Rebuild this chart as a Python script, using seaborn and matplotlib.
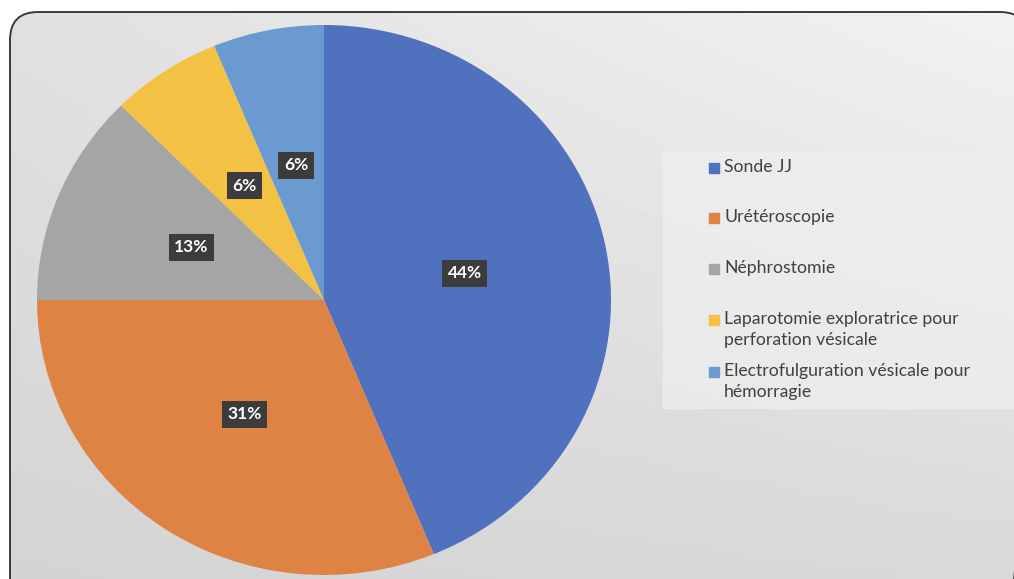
import numpy as np
import matplotlib
matplotlib.use('Agg')
import matplotlib.pyplot as plt
from matplotlib.patches import FancyBboxPatch, Rectangle
import seaborn as sns

sns.set_theme(style='white')
plt.rcParams['font.family'] = ['Lato', 'DejaVu Sans']

# données
categories = ['Sonde JJ', 'Urétéroscopie', 'Néphrostomie',
              'Laparotomie exploratrice pour\nperforation vésicale',
              'Electrofulguration vésicale pour\nhémorragie']
counts = [7, 5, 2, 1, 1]
colors = ['#4F71BE', '#DE8344', '#A5A5A5', '#F3C143', '#6B9AD0']

W, H = 1014, 579
fig = plt.figure(figsize=(W / 100, H / 100), dpi=100, facecolor='white')

# fond dégradé gris dans un cadre arrondi
bg = fig.add_axes([0, 0, 1, 1])
bg.set_xlim(0, W)
bg.set_ylim(H, 0)
bg.axis('off')
frame = FancyBboxPatch((10, 12), 1018, H + 40, boxstyle='round,pad=0,rounding_size=28',
                       fc='none', ec='#3a3a3a', lw=1.4, zorder=2)
bg.add_patch(frame)
xx, yy = np.meshgrid(np.linspace(0, 1, 200), np.linspace(0, 1, 120))
grad = 0.93 - 0.10 * yy - 0.05 * (1 - xx) * (1 - yy) + 0.02 * xx
im = bg.imshow(grad, cmap='gray', vmin=0, vmax=1, extent=(0, W, H, 0), aspect='auto', zorder=0)
im.set_clip_path(frame)
bg.set_xlim(0, W)
bg.set_ylim(H, 0)
# fond de la légende
bg.add_patch(Rectangle((663, 152), W - 663, 256, color='#EFEFEF', alpha=0.7, zorder=1))


def pct_label(p):
    return f'{int(p + 0.5)}%'


# camembert
ax = fig.add_axes([37 / W, 1 - 575 / H, 574 / W, 550 / H])
wedges, texts, autotexts = ax.pie(
    counts, colors=colors, startangle=90, counterclock=False,
    autopct=pct_label, pctdistance=0.5,
    wedgeprops=dict(linewidth=0),
    textprops=dict(color='white', fontsize=12.5, fontweight='bold'))
for t in autotexts:
    t.set_bbox(dict(boxstyle='square,pad=0.32', fc='#3C3C3C', ec='none'))
ax.set_xlim(-1, 1)
ax.set_ylim(-1, 1)
ax.set_aspect('auto')
ax.axis('off')

# légende
y_pos = [168, 218, 269, 320, 372]
for wcol, lab, y in zip(colors, categories, y_pos):
    bg.add_patch(Rectangle((709, y - 5), 10, 10, color=wcol, zorder=3))
    bg.text(724, y - 9, lab, fontsize=12.7, color='#404040', va='top', ha='left',
            linespacing=1.35, zorder=3)

fig.savefig('out.png', dpi=100)
